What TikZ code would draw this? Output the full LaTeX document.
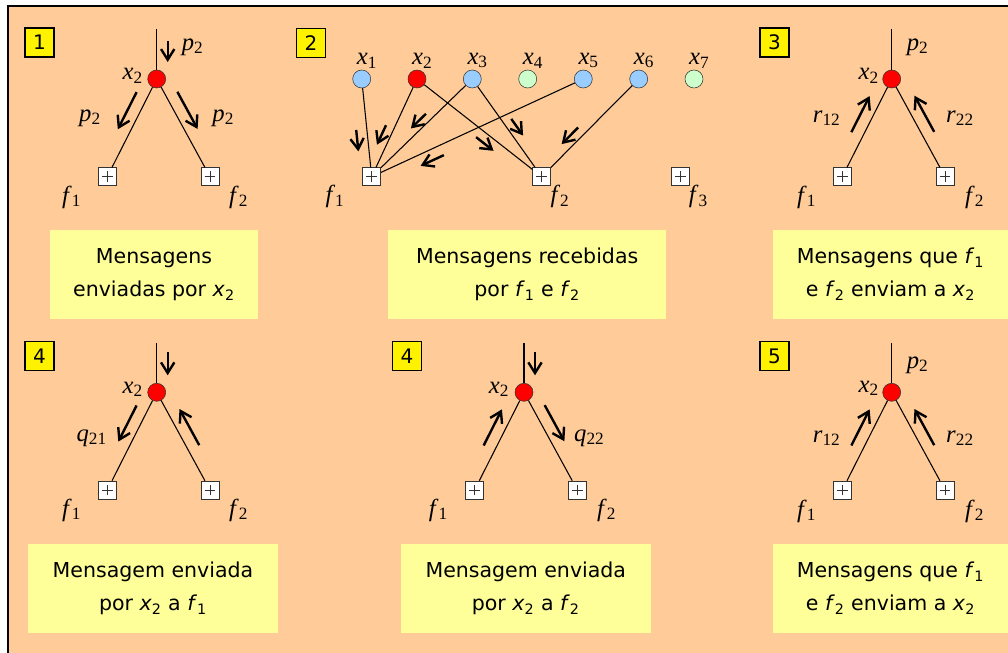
\documentclass[tikz,border=0pt]{standalone}
\usepackage{fontspec}
\setmainfont{Liberation Serif}
\newfontfamily\capfont{DejaVu Sans}
\usepackage{tikz}
\usetikzlibrary{arrows.meta,positioning,calc}

\definecolor{peach}{HTML}{FFCC99}
\definecolor{notefill}{HTML}{FFFF99}
\definecolor{varblue}{HTML}{99CCFF}
\definecolor{vargreen}{HTML}{CCFFCC}

% italic variable with upright index
\newcommand{\vn}[2]{\textit{#1}\textsubscript{#2}}

\begin{document}
\begin{tikzpicture}[
  x=0.75pt, y=-0.75pt,
  every node/.style={inner sep=0pt},
  var/.style={circle, draw=black!80, thin, fill=red, minimum size=13.5pt},
  fac/.style={rectangle, draw=black!80, fill=white, minimum size=13.5pt,
    path picture={\draw[black!80, thin]
      ([xshift=-4pt]path picture bounding box.center) -- ([xshift=4pt]path picture bounding box.center)
      ([yshift=-4pt]path picture bounding box.center) -- ([yshift=4pt]path picture bounding box.center);}},
  lbl/.style={font=\fontsize{18.5}{20}\selectfont},
  xtop/.style={label={[lbl, xshift=4pt, label distance=1pt]above:\vn{x}{#1}}},
  tag/.style={draw=black, line width=1pt, fill=yellow, minimum size=21.75pt, font=\capfont\fontsize{15}{15}\selectfont},
  note/.style={fill=notefill, align=center, minimum height=66.5pt, font=\capfont\fontsize{15.4}{24.75}\selectfont},
  link/.style={line width=0.8pt},
  msg/.style={-{Straight Barb[length=8pt,width=10pt]}, line width=1.8pt}
]
\useasboundingbox (0,0) rectangle (1008,653);
\fill[white] (0,0) rectangle (1008,653);
\filldraw[fill=peach, draw=black, line width=1.5pt] (7.5,5.5) rectangle (1030,680);

% 1: x2 sends p2 to both factors
\node[tag] (n1) at (39.5,42.5) {1};
\begin{scope}[shift={(156.7,79)}]
\node[var] (ax) at (0,0) {};
\node[fac] (af1) at (-49.4,97.7) {};
\node[fac] (af2) at (53.3,97.7) {};
\coordinate (ain) at (0,-50);
\draw[link] (ain) -- (ax);
\draw[link] (ax) -- (af1);
\draw[link] (ax) -- (af2);
\node[lbl] at (-24,-3) {\vn{x}{2}};
\node[lbl] at (36,-32) {\vn{p}{2}};
\node[lbl] at (-66.7,39.3) {\vn{p}{2}};
\node[lbl] at (66.6,39.3) {\vn{p}{2}};
\node[lbl] at (-85,118) {\vn{f}{1}};
\node[lbl] at (82,118) {\vn{f}{2}};
\draw[msg] (11,-38) -- (11,-17);
\draw[msg] ($(ax)!.19!(af1)!9pt!-90:(af1)$) -- ($(ax)!.57!(af1)!9pt!-90:(af1)$);
\draw[msg] ($(ax)!.19!(af2)!9pt!90:(af2)$) -- ($(ax)!.57!(af2)!9pt!90:(af2)$);
\end{scope}
\node[note, minimum width=156pt] (t1) at (154,274.5) {Mensagens\\enviadas por \vn{x}{2}};

% 2: what f1 and f2 receive
\node[tag] (n2) at (311,43) {2};
\node[var, fill=varblue, xtop=1] (x1) at (361.7,79) {};
\node[var, xtop=2] (x2) at (417,79) {};
\node[var, fill=varblue, xtop=3] (x3) at (472.3,79) {};
\node[var, fill=vargreen, xtop=4] (x4) at (527.7,79) {};
\node[var, fill=varblue, xtop=5] (x5) at (583.3,79) {};
\node[var, fill=varblue, xtop=6] (x6) at (638.7,79) {};
\node[var, fill=vargreen, xtop=7] (x7) at (694,79) {};
\node[fac] (f1) at (371.7,176.7) {};
\node[fac] (f2) at (541.7,176.7) {};
\node[fac] (f3) at (680.7,176.7) {};
\node[lbl] at ($(f1)+(-36.7,20)$) {\vn{f}{1}};
\node[lbl] at ($(f2)+(18.3,20)$) {\vn{f}{2}};
\node[lbl] at ($(f3)+(17.6,20)$) {\vn{f}{3}};
\draw[link] (x1) -- (f1);
\draw[link] (x2) -- (f1);
\draw[link] (x3) -- (f1);
\draw[link] (x5) -- (f1);
\draw[link] (x2) -- (f2);
\draw[link] (x3) -- (f2);
\draw[link] (x6) -- (f2);
\draw[msg] ($(x1)!.51!(f1)!8pt!-90:(f1)$) -- ($(x1)!.73!(f1)!8pt!-90:(f1)$);
\draw[msg] ($(x2)!.51!(f1)!6.5pt!-90:(f1)$) -- ($(x2)!.71!(f1)!6.5pt!-90:(f1)$);
\draw[msg] ($(x3)!.41!(f1)!5.5pt!-90:(f1)$) -- ($(x3)!.56!(f1)!5.5pt!-90:(f1)$);
\draw[msg] ($(x5)!.68!(f1)!8pt!90:(f1)$) -- ($(x5)!.79!(f1)!8pt!90:(f1)$);
\draw[msg] ($(x2)!.52!(f2)!7pt!-90:(f2)$) -- ($(x2)!.66!(f2)!7pt!-90:(f2)$);
\draw[msg] ($(x3)!.46!(f2)!6.5pt!90:(f2)$) -- ($(x3)!.63!(f2)!6.5pt!90:(f2)$);
\draw[msg] ($(x6)!.56!(f2)!6.6pt!-90:(f2)$) -- ($(x6)!.73!(f2)!6.6pt!-90:(f2)$);
\node[note, minimum width=208.3pt] (t2) at (527.2,274.5) {Mensagens recebidas\\por \vn{f}{1} e \vn{f}{2}};

% 3: f1 and f2 answer x2
\node[tag] (n3) at (774.5,42.5) {3};
\begin{scope}[shift={(891.7,79)}]
\node[var] (cx) at (0,0) {};
\node[fac] (cf1) at (-49.4,97.7) {};
\node[fac] (cf2) at (53.3,97.7) {};
\coordinate (cin) at (0,-50);
\draw[link] (cin) -- (cx);
\draw[link] (cx) -- (cf1);
\draw[link] (cx) -- (cf2);
\node[lbl] at (-23,-3) {\vn{x}{2}};
\node[lbl] at (26,-32) {\vn{p}{2}};
\node[lbl] at (-65,39.3) {\vn{r}{12}};
\node[lbl] at (68.3,39.3) {\vn{r}{22}};
\node[lbl] at (-85,118) {\vn{f}{1}};
\node[lbl] at (83,118) {\vn{f}{2}};
\draw[msg] ($(cx)!.6!(cf1)!9pt!-90:(cf1)$) -- ($(cx)!.23!(cf1)!9pt!-90:(cf1)$);
\draw[msg] ($(cx)!.6!(cf2)!9pt!90:(cf2)$) -- ($(cx)!.23!(cf2)!9pt!90:(cf2)$);
\end{scope}
\node[note, minimum width=176.25pt] (t3) at (890.5,274.5) {Mensagens que \vn{f}{1}\\e \vn{f}{2} enviam a \vn{x}{2}};

% 4: x2 to f1
\node[tag] (n4) at (39.5,356) {4};
\begin{scope}[shift={(156.7,392.3)}]
\node[var] (dx) at (0,0) {};
\node[fac] (df1) at (-49.4,97.7) {};
\node[fac] (df2) at (53.3,97.7) {};
\coordinate (din) at (0,-49);
\draw[link] (din) -- (dx);
\draw[link] (dx) -- (df1);
\draw[link] (dx) -- (df2);
\node[lbl] at (-24,-3) {\vn{x}{2}};
\node[lbl] at (-65,46) {\vn{q}{21}};
\node[lbl] at (-85,118) {\vn{f}{1}};
\node[lbl] at (82,118) {\vn{f}{2}};
\draw[msg] (11,-40) -- (11,-17);
\draw[msg] ($(dx)!.19!(df1)!9pt!-90:(df1)$) -- ($(dx)!.56!(df1)!9pt!-90:(df1)$);
\draw[msg] ($(dx)!.6!(df2)!9pt!90:(df2)$) -- ($(dx)!.23!(df2)!9pt!90:(df2)$);
\end{scope}
\node[note, minimum width=187pt] (t4) at (153,588.3) {Mensagem enviada\\por \vn{x}{2} a \vn{f}{1}};

% 4: x2 to f2
\node[tag] (n4b) at (407,356) {4};
\begin{scope}[shift={(524,392.3)}]
\node[var] (ex) at (0,0) {};
\node[fac] (ef1) at (-49.4,97.7) {};
\node[fac] (ef2) at (53.3,97.7) {};
\coordinate (ein) at (0,-49);
\draw[link] (ein) -- (ex);
\draw[link] (ex) -- (ef1);
\draw[link] (ex) -- (ef2);
\node[lbl] at (-25,-3) {\vn{x}{2}};
\node[lbl] at (65.3,46) {\vn{q}{22}};
\node[lbl] at (-85.7,118) {\vn{f}{1}};
\node[lbl] at (82.7,118) {\vn{f}{2}};
\draw[msg] (11,-40) -- (11,-17);
\draw[msg] ($(ex)!.6!(ef1)!9pt!-90:(ef1)$) -- ($(ex)!.23!(ef1)!9pt!-90:(ef1)$);
\draw[msg] ($(ex)!.19!(ef2)!9pt!90:(ef2)$) -- ($(ex)!.56!(ef2)!9pt!90:(ef2)$);
\end{scope}
\node[note, minimum width=187.3pt] (t5) at (525.8,588.3) {Mensagem enviada\\por \vn{x}{2} a \vn{f}{2}};

% 5: f1 and f2 answer x2 again
\node[tag] (n5) at (774.5,356) {5};
\begin{scope}[shift={(891.7,392.3)}]
\node[var] (gx) at (0,0) {};
\node[fac] (gf1) at (-49.4,97.7) {};
\node[fac] (gf2) at (53.3,97.7) {};
\coordinate (gin) at (0,-49);
\draw[link] (gin) -- (gx);
\draw[link] (gx) -- (gf1);
\draw[link] (gx) -- (gf2);
\node[lbl] at (-23,-4) {\vn{x}{2}};
\node[lbl] at (26,-27) {\vn{p}{2}};
\node[lbl] at (-65,46) {\vn{r}{12}};
\node[lbl] at (68.3,46) {\vn{r}{22}};
\node[lbl] at (-85,119) {\vn{f}{1}};
\node[lbl] at (83,119) {\vn{f}{2}};
\draw[msg] ($(gx)!.6!(gf1)!9pt!-90:(gf1)$) -- ($(gx)!.23!(gf1)!9pt!-90:(gf1)$);
\draw[msg] ($(gx)!.6!(gf2)!9pt!90:(gf2)$) -- ($(gx)!.23!(gf2)!9pt!90:(gf2)$);
\end{scope}
\node[note, minimum width=176.25pt] (t6) at (890.5,588.3) {Mensagens que \vn{f}{1}\\e \vn{f}{2} enviam a \vn{x}{2}};
\end{tikzpicture}
\end{document}
